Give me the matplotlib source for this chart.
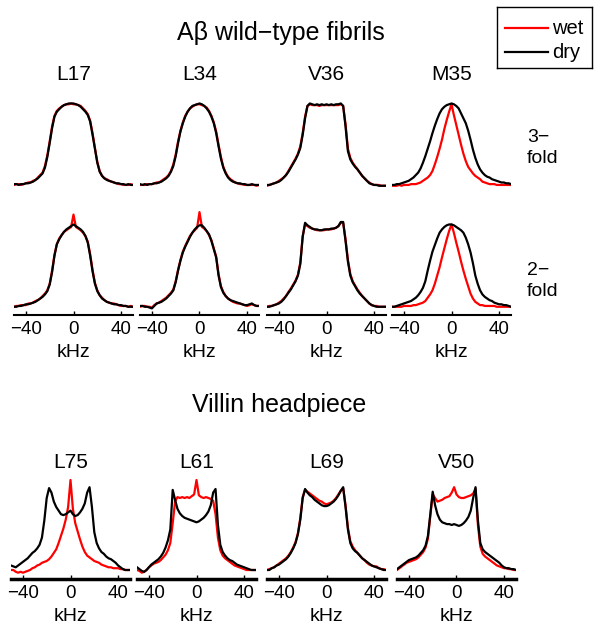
import numpy as np
import matplotlib
matplotlib.use("Agg")
import matplotlib.pyplot as plt

plt.rcParams["font.family"] = ["Liberation Sans", "DejaVu Sans"]

# frequency axis shared by every trace (kHz)
KHZ = np.arange(-50, 51, 2)

# --- Abeta fibrils, 3-fold ---
a3_L17_dry = [0.02, 0.02, 0.01, 0.02, 0.02, 0.03, 0.03, 0.04, 0.05, 0.07, 0.09, 0.12, 0.15, 0.22, 0.35, 0.52, 0.70,
              0.84, 0.90, 0.93, 0.96, 0.98, 0.99, 1.0, 1.0, 1.0, 0.99, 0.98, 0.96, 0.93, 0.90, 0.86, 0.78, 0.62, 0.45,
              0.28, 0.17, 0.12, 0.09, 0.07, 0.06, 0.05, 0.04, 0.03, 0.03, 0.02, 0.02, 0.01, 0.02, 0.01, 0.01]
a3_L17_wet = [0.01, 0.02, 0.02, 0.01, 0.02, 0.03, 0.04, 0.04, 0.06, 0.07, 0.10, 0.13, 0.16, 0.24, 0.37, 0.54, 0.72,
              0.85, 0.91, 0.94, 0.96, 0.98, 0.99, 0.99, 1.0, 0.99, 0.99, 0.98, 0.97, 0.94, 0.91, 0.87, 0.79, 0.64, 0.46,
              0.29, 0.18, 0.12, 0.09, 0.08, 0.06, 0.05, 0.04, 0.03, 0.02, 0.02, 0.01, 0.01, 0.01, 0.02, 0.01]
a3_L34_dry = [0.02, 0.01, 0.02, 0.01, 0.02, 0.02, 0.03, 0.03, 0.04, 0.05, 0.07, 0.09, 0.12, 0.17, 0.24, 0.36, 0.52,
              0.66, 0.76, 0.84, 0.90, 0.94, 0.97, 0.98, 0.99, 1.0, 0.99, 0.97, 0.94, 0.90, 0.84, 0.76, 0.64, 0.48, 0.33,
              0.22, 0.15, 0.10, 0.07, 0.05, 0.04, 0.03, 0.03, 0.02, 0.02, 0.01, 0.01, 0.02, 0.01, 0.01, 0.01]
a3_L34_wet = [0.01, 0.01, 0.01, 0.02, 0.02, 0.02, 0.03, 0.04, 0.04, 0.06, 0.08, 0.10, 0.13, 0.18, 0.26, 0.38, 0.54,
              0.67, 0.77, 0.85, 0.90, 0.94, 0.96, 0.98, 0.99, 0.99, 0.98, 0.97, 0.95, 0.91, 0.85, 0.77, 0.66, 0.50, 0.35,
              0.23, 0.16, 0.11, 0.08, 0.06, 0.04, 0.03, 0.02, 0.02, 0.01, 0.01, 0.01, 0.01, 0.01, 0.0, 0.01]
a3_V36_dry = [0.01, 0.01, 0.02, 0.03, 0.04, 0.05, 0.07, 0.10, 0.13, 0.17, 0.22, 0.27, 0.32, 0.38, 0.46, 0.62, 0.82,
              0.97, 1.0, 0.99, 0.98, 0.99, 0.98, 0.99, 0.98, 0.99, 0.98, 0.99, 0.98, 0.99, 0.99, 1.0, 0.97, 0.72, 0.42,
              0.32, 0.27, 0.23, 0.20, 0.16, 0.12, 0.09, 0.06, 0.03, 0.02, 0.01, 0.01, 0.0, 0.0, 0.0, 0.0]
a3_V36_wet = [0.0, 0.01, 0.02, 0.03, 0.04, 0.06, 0.08, 0.10, 0.13, 0.18, 0.23, 0.28, 0.33, 0.39, 0.48, 0.64, 0.84,
              0.97, 0.99, 0.98, 0.98, 0.98, 0.97, 0.98, 0.98, 0.98, 0.98, 0.98, 0.98, 0.98, 0.98, 0.99, 0.97, 0.75, 0.45,
              0.34, 0.28, 0.24, 0.20, 0.16, 0.12, 0.09, 0.06, 0.04, 0.02, 0.01, 0.01, 0.01, 0.0, 0.0, 0.0]
a3_M35_dry = [0.01, 0.01, 0.02, 0.02, 0.03, 0.04, 0.05, 0.06, 0.08, 0.10, 0.13, 0.16, 0.21, 0.28, 0.36, 0.45, 0.54,
              0.64, 0.73, 0.81, 0.88, 0.93, 0.96, 0.98, 0.99, 1.0, 0.99, 0.97, 0.94, 0.88, 0.82, 0.76, 0.67, 0.56, 0.44,
              0.34, 0.26, 0.20, 0.16, 0.13, 0.11, 0.10, 0.08, 0.07, 0.06, 0.05, 0.04, 0.04, 0.03, 0.03, 0.02]
a3_M35_wet = [0.0, 0.0, 0.0, 0.01, 0.0, 0.01, 0.01, 0.01, 0.02, 0.02, 0.02, 0.03, 0.04, 0.06, 0.08, 0.10, 0.13,
              0.18, 0.26, 0.35, 0.45, 0.56, 0.69, 0.80, 0.90, 0.99, 0.86, 0.74, 0.62, 0.50, 0.39, 0.30, 0.23, 0.19, 0.15,
              0.12, 0.10, 0.08, 0.05, 0.04, 0.03, 0.02, 0.02, 0.02, 0.01, 0.01, 0.01, 0.01, 0.01, 0.01, 0.01]

# --- Abeta fibrils, 2-fold ---
a2_L17_dry = [0.0, 0.0, 0.01, 0.01, 0.02, 0.03, 0.03, 0.04, 0.05, 0.06, 0.08, 0.10, 0.12, 0.15, 0.19, 0.27, 0.42,
              0.62, 0.76, 0.82, 0.87, 0.91, 0.94, 0.96, 0.98, 1.0, 0.98, 0.96, 0.94, 0.91, 0.86, 0.78, 0.62, 0.43, 0.28,
              0.19, 0.14, 0.10, 0.08, 0.06, 0.05, 0.04, 0.03, 0.03, 0.02, 0.02, 0.01, 0.01, 0.0, 0.0, 0.0]
a2_L17_wet = [0.0, 0.01, 0.01, 0.02, 0.02, 0.02, 0.04, 0.04, 0.05, 0.07, 0.08, 0.10, 0.13, 0.16, 0.20, 0.28, 0.44,
              0.63, 0.76, 0.83, 0.87, 0.91, 0.93, 0.95, 0.97, 1.12, 0.97, 0.95, 0.93, 0.90, 0.86, 0.79, 0.64, 0.45, 0.29,
              0.20, 0.14, 0.11, 0.08, 0.06, 0.05, 0.04, 0.04, 0.03, 0.02, 0.01, 0.01, 0.01, 0.0, 0.01, 0.0]
a2_L34_dry = [0.01, 0.01, 0.0, 0.0, -0.01, -0.02, 0.01, 0.04, 0.05, 0.06, 0.08, 0.10, 0.13, 0.16, 0.20, 0.30, 0.44,
              0.56, 0.66, 0.73, 0.79, 0.85, 0.90, 0.94, 0.97, 0.99, 0.99, 0.96, 0.92, 0.88, 0.80, 0.70, 0.60, 0.38, 0.24,
              0.17, 0.13, 0.10, 0.08, 0.07, 0.06, 0.05, 0.04, 0.03, 0.02, 0.02, 0.03, 0.04, 0.02, 0.01, 0.01]
a2_L34_wet = [0.0, 0.01, 0.01, 0.0, 0.0, -0.01, 0.02, 0.04, 0.05, 0.07, 0.09, 0.11, 0.14, 0.17, 0.21, 0.31, 0.45,
              0.57, 0.67, 0.74, 0.80, 0.86, 0.90, 0.93, 0.96, 1.15, 0.97, 0.95, 0.92, 0.87, 0.81, 0.71, 0.61, 0.40, 0.25,
              0.18, 0.13, 0.10, 0.08, 0.06, 0.05, 0.04, 0.04, 0.03, 0.02, 0.01, 0.02, 0.03, 0.02, 0.01, 0.01]
a2_V36_dry = [0.0, 0.0, 0.01, 0.02, 0.03, 0.04, 0.06, 0.09, 0.13, 0.17, 0.21, 0.26, 0.31, 0.38, 0.52, 0.85, 1.02,
              0.99, 0.97, 0.95, 0.94, 0.94, 0.93, 0.93, 0.94, 0.94, 0.94, 0.95, 0.95, 0.96, 0.98, 1.03, 1.03, 0.80, 0.55,
              0.38, 0.30, 0.25, 0.20, 0.16, 0.13, 0.10, 0.07, 0.04, 0.02, 0.01, 0.0, 0.0, 0.0, 0.0, 0.0]
a2_V36_wet = [0.0, 0.01, 0.01, 0.02, 0.03, 0.05, 0.07, 0.10, 0.13, 0.18, 0.22, 0.27, 0.32, 0.39, 0.54, 0.86, 1.0,
              0.98, 0.96, 0.95, 0.94, 0.93, 0.93, 0.93, 0.93, 0.94, 0.94, 0.94, 0.95, 0.96, 0.98, 1.02, 1.02, 0.82, 0.57,
              0.40, 0.31, 0.26, 0.21, 0.17, 0.13, 0.10, 0.07, 0.04, 0.02, 0.01, 0.01, 0.0, 0.0, 0.0, 0.0]
a2_M35_dry = [0.0, 0.0, 0.01, 0.02, 0.03, 0.04, 0.05, 0.06, 0.07, 0.09, 0.11, 0.14, 0.18, 0.23, 0.31, 0.44, 0.56,
              0.67, 0.75, 0.83, 0.90, 0.94, 0.97, 0.99, 1.0, 1.0, 0.99, 0.97, 0.95, 0.93, 0.90, 0.84, 0.76, 0.66, 0.53,
              0.38, 0.28, 0.20, 0.15, 0.12, 0.10, 0.08, 0.07, 0.05, 0.04, 0.03, 0.03, 0.02, 0.02, 0.01, 0.0]
a2_M35_wet = [0.0, 0.0, 0.0, 0.0, 0.0, 0.01, 0.01, 0.01, 0.01, 0.02, 0.02, 0.03, 0.04, 0.05, 0.07, 0.11, 0.15,
              0.20, 0.28, 0.38, 0.48, 0.60, 0.71, 0.82, 0.92, 1.0, 0.90, 0.78, 0.67, 0.55, 0.44, 0.34, 0.25, 0.16, 0.10,
              0.06, 0.04, 0.02, 0.02, 0.01, 0.01, 0.01, 0.01, 0.01, 0.0, 0.0, 0.0, 0.0, 0.0, 0.0, 0.0]

# --- villin headpiece ---
v_L75_dry = [0.05, 0.04, 0.03, 0.05, 0.07, 0.09, 0.11, 0.13, 0.16, 0.19, 0.21, 0.24, 0.28, 0.36, 0.55, 0.80, 0.91,
             0.86, 0.76, 0.70, 0.66, 0.62, 0.61, 0.62, 0.64, 0.66, 0.62, 0.60, 0.61, 0.64, 0.68, 0.74, 0.86, 0.92, 0.70,
             0.42, 0.30, 0.24, 0.20, 0.18, 0.15, 0.13, 0.12, 0.10, 0.08, 0.05, 0.03, 0.01, 0.0, 0.0, 0.0]
v_L75_wet = [0.0, 0.0, -0.02, -0.03, -0.02, -0.03, -0.02, -0.01, 0.0, 0.02, 0.03, 0.05, 0.06, 0.08, 0.09, 0.10, 0.12,
             0.15, 0.19, 0.23, 0.30, 0.38, 0.46, 0.56, 0.70, 1.0, 0.68, 0.52, 0.43, 0.34, 0.26, 0.20, 0.16, 0.14, 0.12,
             0.10, 0.09, 0.08, 0.06, 0.05, 0.04, 0.03, 0.03, 0.02, 0.02, 0.02, 0.01, 0.01, 0.0, 0.0, 0.0]
v_L61_dry = [0.03, 0.01, -0.01, -0.02, 0.0, 0.03, 0.06, 0.08, 0.10, 0.12, 0.15, 0.19, 0.25, 0.33, 0.45, 0.89, 0.78,
             0.68, 0.63, 0.60, 0.58, 0.57, 0.56, 0.55, 0.54, 0.53, 0.54, 0.56, 0.58, 0.61, 0.65, 0.72, 0.86, 0.90, 0.50,
             0.28, 0.20, 0.16, 0.13, 0.11, 0.10, 0.08, 0.06, 0.05, 0.04, 0.03, 0.02, 0.01, 0.0, 0.0, 0.0]
v_L61_wet = [0.0, -0.01, -0.03, -0.02, 0.0, 0.03, 0.05, 0.07, 0.08, 0.09, 0.11, 0.14, 0.17, 0.22, 0.30, 0.52, 0.76,
             0.81, 0.80, 0.81, 0.80, 0.81, 0.80, 0.82, 0.84, 1.0, 0.83, 0.81, 0.80, 0.81, 0.80, 0.79, 0.77, 0.62, 0.36,
             0.22, 0.16, 0.13, 0.11, 0.09, 0.07, 0.05, 0.04, 0.03, 0.02, 0.01, 0.0, 0.0, 0.0, 0.0, 0.0]
v_L69_dry = [0.0, 0.0, 0.02, 0.03, 0.05, 0.06, 0.08, 0.10, 0.12, 0.15, 0.19, 0.24, 0.30, 0.40, 0.56, 0.80, 0.90,
             0.86, 0.83, 0.81, 0.78, 0.76, 0.74, 0.72, 0.71, 0.71, 0.72, 0.74, 0.76, 0.79, 0.83, 0.88, 0.92, 0.70, 0.45,
             0.30, 0.24, 0.21, 0.19, 0.16, 0.13, 0.11, 0.09, 0.07, 0.05, 0.04, 0.03, 0.02, 0.01, 0.0, 0.0]
v_L69_wet = [0.0, 0.01, 0.02, 0.03, 0.05, 0.07, 0.09, 0.11, 0.13, 0.16, 0.20, 0.25, 0.31, 0.41, 0.58, 0.81, 0.89,
             0.87, 0.85, 0.83, 0.81, 0.79, 0.77, 0.76, 0.74, 0.73, 0.74, 0.75, 0.77, 0.80, 0.84, 0.88, 0.91, 0.72, 0.47,
             0.32, 0.26, 0.22, 0.19, 0.16, 0.13, 0.11, 0.08, 0.06, 0.05, 0.04, 0.04, 0.02, 0.01, 0.01, 0.0]
v_V50_dry = [0.01, 0.03, 0.05, 0.07, 0.09, 0.11, 0.12, 0.13, 0.14, 0.16, 0.19, 0.22, 0.27, 0.38, 0.62, 0.87, 0.72,
             0.62, 0.56, 0.53, 0.52, 0.51, 0.51, 0.50, 0.51, 0.50, 0.49, 0.50, 0.52, 0.55, 0.59, 0.66, 0.80, 0.92, 0.55,
             0.30, 0.23, 0.20, 0.18, 0.16, 0.14, 0.12, 0.10, 0.08, 0.05, 0.03, 0.02, 0.02, 0.01, 0.01, 0.0]
v_V50_wet = [0.0, 0.02, 0.04, 0.06, 0.08, 0.09, 0.10, 0.11, 0.12, 0.14, 0.17, 0.20, 0.25, 0.35, 0.60, 0.84, 0.80,
             0.76, 0.77, 0.78, 0.80, 0.81, 0.82, 0.86, 0.92, 0.84, 0.81, 0.80, 0.80, 0.81, 0.82, 0.83, 0.85, 0.90, 0.50,
             0.26, 0.18, 0.15, 0.13, 0.11, 0.09, 0.07, 0.05, 0.04, 0.03, 0.02, 0.02, 0.01, 0.01, 0.0, 0.0]

ROW1 = [("L17", a3_L17_wet, a3_L17_dry), ("L34", a3_L34_wet, a3_L34_dry),
        ("V36", a3_V36_wet, a3_V36_dry), ("M35", a3_M35_wet, a3_M35_dry)]
ROW2 = [("", a2_L17_wet, a2_L17_dry), ("", a2_L34_wet, a2_L34_dry),
        ("", a2_V36_wet, a2_V36_dry), ("", a2_M35_wet, a2_M35_dry)]
ROW3 = [("L75", v_L75_wet, v_L75_dry), ("L61", v_L61_wet, v_L61_dry),
        ("L69", v_L69_wet, v_L69_dry), ("V50", v_V50_wet, v_V50_dry)]

W, H = 601, 630
fig = plt.figure(figsize=(W / 100, H / 100), dpi=100)


def px_ax(left, top, width, bottom):
    return fig.add_axes([left / W, 1 - bottom / H, width / W, (bottom - top) / H])


def panel(ax, wet, dry, ylim, axis_lw=None):
    ax.plot(KHZ, wet, color="red", lw=1.6)
    ax.plot(KHZ, dry, color="black", lw=1.6)
    ax.set_xlim(-50, 50)
    ax.set_ylim(*ylim)
    for s in ["top", "left", "right"]:
        ax.spines[s].set_visible(False)
    ax.set_yticks([])
    if axis_lw is None:
        ax.spines["bottom"].set_visible(False)
        ax.set_xticks([])
    else:
        ax.spines["bottom"].set_linewidth(axis_lw)
        ax.set_xticks([-40, 0, 40])
        ax.tick_params(axis="x", direction="in", length=3, width=1, labelsize=13.5, pad=4)
        ax.set_xlabel("kHz", fontsize=14, labelpad=4.5)
    ax.patch.set_alpha(0)


lefts12 = [14, 140, 267, 392]
lefts3 = [11, 137, 267, 397]

for i, (name, wet, dry) in enumerate(ROW1):
    ax = px_ax(lefts12[i], 87, 119, 194)
    panel(ax, wet, dry, (-0.1, 1.2))
    fig.text((lefts12[i] + 59.5) / W, 1 - 75 / H, name, ha="center", va="center", fontsize=15)

for i, (name, wet, dry) in enumerate(ROW2):
    ax = px_ax(lefts12[i], 208, 119, 315)
    panel(ax, wet, dry, (-0.1, 1.2), axis_lw=1.5)

for i, (name, wet, dry) in enumerate(ROW3):
    ax = px_ax(lefts3[i], 471, 119, 579)
    panel(ax, wet, dry, (-0.1, 1.1), axis_lw=2.5)
    fig.text((lefts3[i] + 59.5) / W, 1 - 462 / H, name, ha="center", va="center", fontsize=15)

fig.text(281 / W, 1 - 33 / H, "A\u03b2 wild\u2212type fibrils", ha="center", va="center", fontsize=18)
fig.text(279 / W, 1 - 405 / H, "Villin headpiece", ha="center", va="center", fontsize=18)
fig.text(527 / W, 1 - 148 / H, "3\u2212\nfold", ha="left", va="center", fontsize=14, linespacing=1.35)
fig.text(527 / W, 1 - 281 / H, "2\u2212\nfold", ha="left", va="center", fontsize=14, linespacing=1.25)

# legend box
lax = px_ax(497, 7, 95, 68)
lax.set_xlim(0, 95)
lax.set_ylim(61, 0)
lax.set_xticks([]); lax.set_yticks([])
for s in lax.spines.values():
    s.set_linewidth(1)
lax.plot([8, 51], [21, 21], color="red", lw=1.6)
lax.plot([8, 51], [45, 45], color="black", lw=1.6)
lax.text(55, 21, "wet", va="center", ha="left", fontsize=14.5)
lax.text(55, 45, "dry", va="center", ha="left", fontsize=14.5)

fig.savefig("out.png", dpi=100)
